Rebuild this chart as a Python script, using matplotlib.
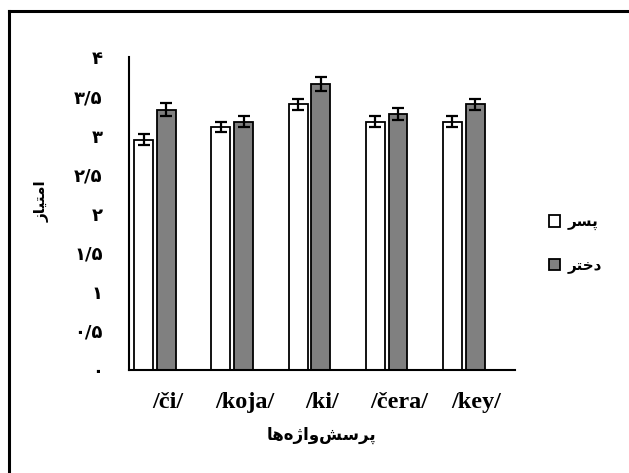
#!/usr/bin/env python3
import numpy as np
import matplotlib as mpl
import matplotlib.pyplot as plt

mpl.rcParams.update({
    "font.family": ["DejaVu Sans"],
    "axes.linewidth": 1.5,
})

# ===== DATA =====
categories = ["/či/", "/koja/", "/ki/", "/čera/", "/key/"]
boys  = [2.95, 3.11, 3.40, 3.18, 3.18]
girls = [3.33, 3.18, 3.66, 3.28, 3.40]
boys_err  = [0.075, 0.065, 0.075, 0.075, 0.075]
girls_err = [0.085, 0.075, 0.09, 0.075, 0.075]
yticks = [0, 0.5, 1, 1.5, 2, 2.5, 3, 3.5, 4]
ytick_labels = ["۰", "۰/۵", "۱", "۱/۵", "۲", "۲/۵", "۳", "۳/۵", "۴"]
label_boys  = "پسر"
label_girls = "دختر"
xlabel = "پرسش‌واژه‌ها"
ylabel = "امتیاز"

# ===== minimal Persian shaping (matplotlib has no bidi/joining) =====
# letter: (isolated, final, initial, medial) ; None -> letter does not join the next one
FORMS = {
    "ا": (0xFE8D, 0xFE8E, None, None),
    "د": (0xFEA9, 0xFEAA, None, None),
    "ر": (0xFEAD, 0xFEAE, None, None),
    "ز": (0xFEAF, 0xFEB0, None, None),
    "ژ": (0xFB8A, 0xFB8B, None, None),
    "و": (0xFEED, 0xFEEE, None, None),
    "پ": (0xFB56, 0xFB57, 0xFB58, 0xFB59),
    "ت": (0xFE95, 0xFE96, 0xFE97, 0xFE98),
    "خ": (0xFEA5, 0xFEA6, 0xFEA7, 0xFEA8),
    "س": (0xFEB1, 0xFEB2, 0xFEB3, 0xFEB4),
    "ش": (0xFEB5, 0xFEB6, 0xFEB7, 0xFEB8),
    "م": (0xFEE1, 0xFEE2, 0xFEE3, 0xFEE4),
    "ه": (0xFEE9, 0xFEEA, 0xFEEB, 0xFEEC),
    "ی": (0xFBFC, 0xFBFD, 0xFEF3, 0xFEF4),
}

def shape(text):
    out = []
    chars = list(text)
    for i, c in enumerate(chars):
        if c not in FORMS:
            if c != "\u200c":
                out.append(c)
            continue
        prev = chars[i - 1] if i > 0 else None
        nxt = chars[i + 1] if i + 1 < len(chars) else None
        join_prev = prev in FORMS and FORMS[prev][2] is not None
        join_next = nxt in FORMS and FORMS[c][2] is not None
        iso, fin, ini, med = FORMS[c]
        if join_prev and join_next:
            out.append(chr(med))
        elif join_prev:
            out.append(chr(fin))
        elif join_next:
            out.append(chr(ini))
        else:
            out.append(chr(iso))
    return "".join(reversed(out))

# ===== PLOT =====
fig = plt.figure(figsize=(6.29, 4.73), dpi=100)
ax = fig.add_axes([129 / 629, 103 / 473, 386 / 629, 312.5 / 473])

x = np.arange(len(categories))
w = 0.245
ekw = dict(elinewidth=1.6, capthick=1.6, ecolor="black")
ax.bar(x - 0.31, boys, w, yerr=boys_err, capsize=4, color="white",
       edgecolor="black", linewidth=1.3, error_kw=ekw, label=shape(label_boys))
ax.bar(x - 0.015, girls, w, yerr=girls_err, capsize=4, color="#808080",
       edgecolor="black", linewidth=1.3, error_kw=ekw, label=shape(label_girls))

ax.set_xlim(-0.5, len(categories) - 0.5)
ax.set_ylim(0, 4)
ax.set_yticks(yticks)
ax.set_yticklabels(ytick_labels, fontsize=13, fontweight="bold")
ax.set_xticks(x)
ax.set_xticklabels(categories, fontsize=17.5, fontweight="bold",
                   family="Liberation Serif")
ax.tick_params(axis="y", length=0, pad=19)
ax.tick_params(axis="x", length=0, pad=16)

for s in ["top", "right"]:
    ax.spines[s].set_visible(False)

ax.set_xlabel(shape(xlabel), fontsize=12, fontweight="bold", labelpad=9)
ax.set_ylabel(shape(ylabel), fontsize=11, fontweight="bold")
ax.yaxis.set_label_coords(-0.205, 0.54)

ax.legend(loc="center left", bbox_to_anchor=(535 / 629, 1 - 244 / 473),
          bbox_transform=fig.transFigure, frameon=False,
          handlelength=0.75, handleheight=0.75, handletextpad=0.5,
          labelspacing=1.8, prop=dict(size=11, weight="bold"))

# outer frame (only top and left edges show in the original crop)
fig.add_artist(plt.Line2D([9 / 629, 9 / 629], [0, 1 - 11 / 473],
                          transform=fig.transFigure, color="black", lw=2.2))
fig.add_artist(plt.Line2D([9 / 629, 1], [1 - 11 / 473, 1 - 11 / 473],
                          transform=fig.transFigure, color="black", lw=2.2))

fig.savefig("out.png", dpi=100)
